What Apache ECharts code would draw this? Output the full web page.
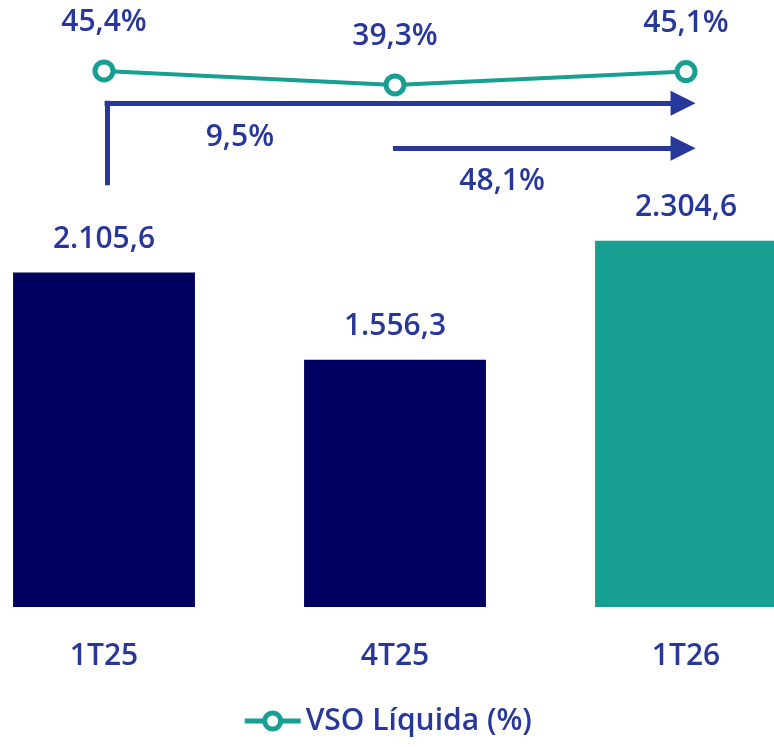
<!DOCTYPE html>
<html>
<head>
<meta charset="utf-8">
<script src="https://cdn.jsdelivr.net/npm/echarts@6/dist/echarts.min.js"></script>
<style>
  html, body { margin: 0; padding: 0; background: #fff; }
  #chart { width: 774px; height: 747px; }
</style>
</head>
<body>
<div id="chart"></div>
<script>
const categories = ["1T25", "4T25", "1T26"];
const vsoBruta = [2105.6, 1556.3, 2304.6];
const vsoLiquida = [45.4, 39.3, 45.1];
const growthLabels = ["9,5%", "48,1%"];

const textColor = "#28389a";
const navy = "#000060";
const teal = "#179f92";
const fontFamily = "'Open Sans', 'Noto Sans', sans-serif";
const fs = 30;

function fmtNum(v) {
  const parts = v.toFixed(1).split(".");
  return parts[0].replace(/\B(?=(\d{3})+(?!\d))/g, ".") + "," + parts[1];
}

const chart = echarts.init(document.getElementById("chart"));

const arrowStyle = { color: textColor, width: 5, opacity: 1 };

const option = {
  animation: false,
  textStyle: { fontFamily: fontFamily },
  grid: { left: -41.5, width: 873, top: 0, bottom: 140, outerBoundsMode: "none", containLabel: false },
  legend: {
    bottom: 6,
    left: "center",
    itemWidth: 56,
    itemHeight: 20,
    itemGap: 10,
    data: ["VSO Líquida (%)"],
    lineStyle: { width: 5 },
    itemStyle: { borderWidth: 5, color: "#fff", borderColor: teal },
    textStyle: { color: textColor, fontSize: fs, fontWeight: 600, fontFamily: fontFamily }
  },
  xAxis: [
    {
      type: "category",
      data: categories,
      axisLine: { show: false },
      axisTick: { show: false },
      axisLabel: { color: textColor, fontSize: fs, fontWeight: 600, margin: 34 }
    },
    { type: "value", min: -0.5, max: 2.5, show: false }
  ],
  yAxis: [
    { type: "value", min: 0, max: 3820, show: false },
    { type: "value", min: -188.2, max: 76.3, show: false }
  ],
  series: [
    {
      name: "VSO Bruta",
      type: "bar",
      barWidth: "62.5%",
      data: vsoBruta.map((v, i) => ({
        value: v,
        itemStyle: { color: i === 2 ? teal : navy }
      })),
      label: {
        show: true,
        position: "top",
        distance: 18,
        color: textColor,
        fontSize: fs,
        fontWeight: 600,
        formatter: p => fmtNum(p.value)
      }
    },
    {
      name: "VSO Líquida (%)",
      type: "line",
      yAxisIndex: 1,
      data: vsoLiquida,
      color: teal,
      symbol: "circle",
      symbolSize: 18,
      lineStyle: { width: 4, color: teal },
      itemStyle: { color: "#fff", borderColor: teal, borderWidth: 5 },
      label: {
        show: true,
        position: "top",
        distance: 22,
        color: textColor,
        fontSize: fs,
        fontWeight: 600,
        formatter: p => p.value.toFixed(1).replace(".", ",") + "%"
      }
    },
    {
      type: "lines",
      coordinateSystem: "cartesian2d",
      xAxisIndex: 1,
      yAxisIndex: 0,
      symbol: "none",
      lineStyle: arrowStyle,
      data: [{ coords: [[0.01, 2654], [0.01, 3186]] }]
    },
    {
      type: "lines",
      coordinateSystem: "cartesian2d",
      xAxisIndex: 1,
      yAxisIndex: 0,
      symbol: ["none", "triangle"],
      symbolSize: 25,
      lineStyle: arrowStyle,
      itemStyle: { color: textColor },
      data: [
        { coords: [[0.002, 3170], [1.99, 3170]] },
        { coords: [[0.993, 2887], [1.99, 2887]] }
      ]
    },
    {
      type: "scatter",
      xAxisIndex: 1,
      yAxisIndex: 0,
      symbolSize: 0,
      itemStyle: { color: "#fff", opacity: 1 },
      label: {
        show: true,
        position: "inside",
        color: textColor,
        opacity: 1,
        fontSize: fs,
        fontWeight: 600,
        formatter: p => growthLabels[p.dataIndex]
      },
      data: [[0.467, 2955], [1.368, 2675]]
    }
  ]
};

chart.setOption(option);
</script>
</body>
</html>
